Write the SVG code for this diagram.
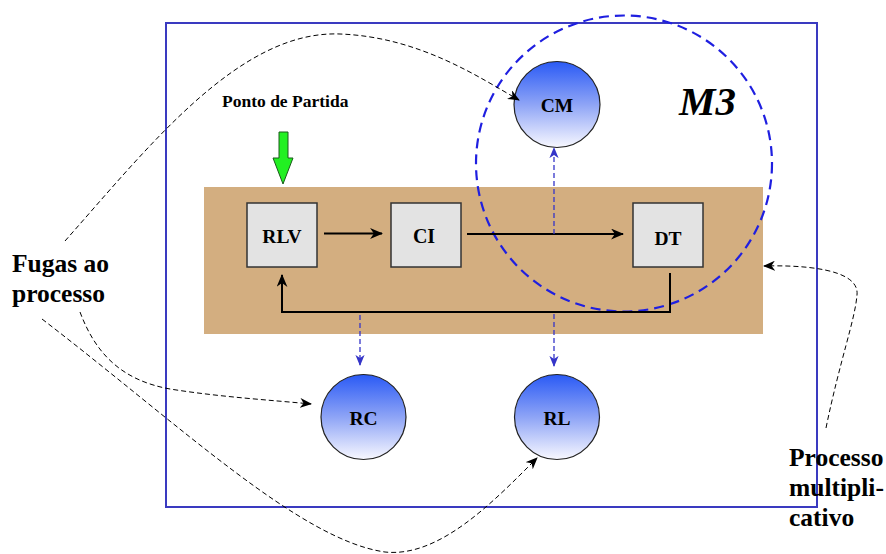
<svg xmlns="http://www.w3.org/2000/svg" width="886" height="554" viewBox="0 0 886 554">
<defs>
<linearGradient id="ball" x1="0" y1="0" x2="0" y2="1">
<stop offset="0" stop-color="#2a5af5"/>
<stop offset="0.5" stop-color="#8ea4f6"/>
<stop offset="1" stop-color="#f8f8ff"/>
</linearGradient>
<marker id="ab" viewBox="0 0 12 10" refX="11" refY="5" markerWidth="12" markerHeight="10" markerUnits="userSpaceOnUse" orient="auto">
<path d="M0,0 L12,5 L0,10 L3.5,5 z" fill="#000"/>
</marker>
<marker id="as" viewBox="0 0 12 10" refX="11" refY="5" markerWidth="13" markerHeight="11" markerUnits="userSpaceOnUse" orient="auto">
<path d="M0,0 L12,5 L0,10 L3.5,5 z" fill="#000"/>
</marker>
<marker id="abl" viewBox="0 0 12 10" refX="11" refY="5" markerWidth="11" markerHeight="10" markerUnits="userSpaceOnUse" orient="auto">
<path d="M0,0 L12,5 L0,10 L3.5,5 z" fill="#3535c8"/>
</marker>
</defs>
<style>
.lbl{font-family:"Liberation Serif","Times New Roman",serif;font-weight:bold;fill:#000}
.box{fill:#e3e3e3;stroke:#333;stroke-width:1.5}
.ball{fill:url(#ball);stroke:#222;stroke-width:1.2}
.solid{fill:none;stroke:#000;stroke-width:2}
.bdash{fill:none;stroke:#3535c8;stroke-width:1.3;stroke-dasharray:5,3}
.kdash{fill:none;stroke:#000;stroke-width:1;stroke-dasharray:5,3}
</style>
<rect x="0" y="0" width="886" height="554" fill="#fff"/>
<rect id="frame" x="166" y="23" width="651" height="484" fill="none" stroke="#3a3ac0" stroke-width="2"/>
<rect id="band" x="204" y="187" width="559" height="147" fill="#d3ae80"/>
<text class="lbl" x="222" y="107" font-size="17.5">Ponto de Partida</text>
<polygon id="start-arrow" points="279,132 288,132 288,158 293,158 283,184 273,158 279,158" fill="#22f022" stroke="#1a5a1a" stroke-width="1"/>
<g id="RLV"><rect class="box" x="247" y="203" width="70" height="64"/><text class="lbl" x="282" y="243" font-size="19.5" text-anchor="middle">RLV</text></g>
<g id="CI"><rect class="box" x="391" y="203" width="70" height="64"/><text class="lbl" x="424" y="243" font-size="20" text-anchor="middle">CI</text></g>
<g id="DT"><rect class="box" x="633" y="203" width="70" height="64"/><text class="lbl" x="668" y="245" font-size="19.5" text-anchor="middle">DT</text></g>
<g id="CM"><circle class="ball" cx="557" cy="104.5" r="43"/><text class="lbl" x="557" y="112" font-size="19.5" text-anchor="middle">CM</text></g>
<g id="RC"><circle class="ball" cx="363.5" cy="417" r="42.5"/><text class="lbl" x="363.5" y="425" font-size="19.5" text-anchor="middle">RC</text></g>
<g id="RL"><circle class="ball" cx="557" cy="417" r="42.5"/><text class="lbl" x="557" y="425" font-size="19.5" text-anchor="middle">RL</text></g>
<text class="lbl" x="679" y="115" font-size="41" font-style="italic">M3</text>
<circle id="m3-circle" cx="624" cy="163.5" r="148" fill="none" stroke="#1f1fe0" stroke-width="2.2" stroke-dasharray="10,6"/>
<g id="connectors">
<path class="solid" d="M324,233.5 L382,233.5" marker-end="url(#as)"/>
<path class="solid" d="M467,234 L623,234" marker-end="url(#as)"/>
<path class="solid" d="M670,273 L670,312 L282,312 L282,275" marker-end="url(#as)"/>
<path class="bdash" d="M554,234 L554,148" marker-end="url(#abl)"/>
<path class="bdash" d="M360,315 L360,365" marker-end="url(#abl)"/>
<path class="bdash" d="M554,314 L554,366" marker-end="url(#abl)"/>
<path class="kdash" d="M65,241 C150,145 240,30 340,34 C420,37 480,78 519,100" stroke-width="1.5" stroke-dasharray="7,5" marker-end="url(#ab)"/>
<path class="kdash" d="M80,312 C95,352 120,380 170,389 C220,397 270,400 311,404" marker-end="url(#ab)"/>
<path class="kdash" d="M42,319 C180,425 300,540 385,552 C440,558 495,500 537,458" marker-end="url(#ab)"/>
<path class="kdash" d="M826,428 C840,360 855,320 857,295 C860,268 800,265 764,266" marker-end="url(#ab)"/>
</g>
<text class="lbl" font-size="25.5"><tspan x="12" y="272">Fugas ao</tspan><tspan x="12" y="302">processo</tspan></text>
<text class="lbl" font-size="25.5"><tspan x="789" y="466">Processo</tspan><tspan x="789" y="496">multipli-</tspan><tspan x="789" y="526">cativo</tspan></text>
</svg>
